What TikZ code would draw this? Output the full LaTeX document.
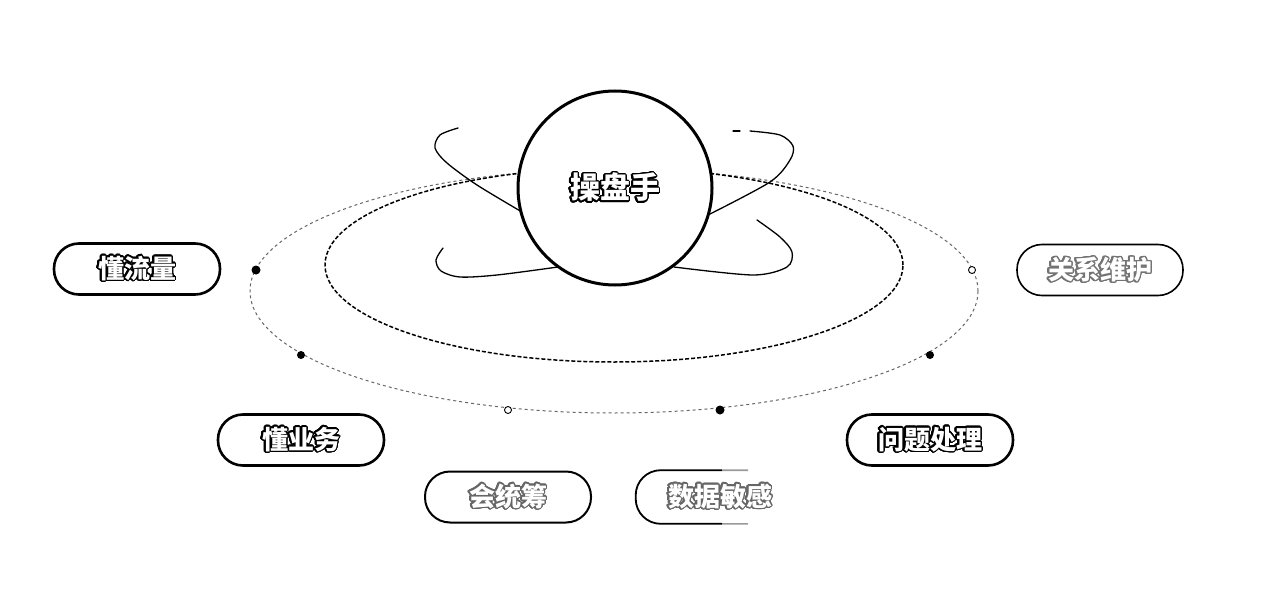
\documentclass[tikz,border=0pt]{standalone}
\usepackage{fontspec}
\usepackage{contour}
\newfontfamily\cjk{Noto Sans CJK SC}
\contourlength{1.3pt}
\contournumber{32}
\newcommand{\olbl}[2]{\contour{#1}{\textcolor{white}{#2}}}

\begin{document}
\begin{tikzpicture}[x=1pt,y=-1pt,
  pillbox/.style={draw, fill=white, rounded corners=25pt, minimum width=166pt,
    minimum height=51pt, inner sep=0pt, line width=2.6pt,
    font=\cjk\bfseries\fontsize{26}{26}\selectfont},
  softpill/.style={pillbox, line width=1.6pt},
  orbit/.style={line width=1.3pt, line cap=round},
  bigdot/.style={circle, fill=black, inner sep=0pt, minimum size=9pt},
  opendot/.style={circle, draw=black, fill=white, line width=0.9pt, inner sep=0pt, minimum size=7pt}]

\useasboundingbox (0,0) rectangle (1280,602);

% dashed orbit rings
\draw[black!60, line width=1pt, dash pattern=on 3pt off 3pt]
  (614,291) ellipse [x radius=364pt, y radius=122pt];
\draw[line width=1.5pt, dash pattern=on 4pt off 2pt]
  (614,265) ellipse [x radius=289pt, y radius=97pt];

% crossing loops around the centre
\draw[orbit] plot[smooth] coordinates {(458,128) (440,135) (435,148) (447,163) (477,185) (522,212)};
\draw[orbit] plot[smooth] coordinates {(750,131) (780,135) (793,146) (790,160) (770,182) (708,215)};
\draw[orbit] (733,131) -- (740,131);
\draw[orbit] plot[smooth] coordinates {(443,248) (436,260) (441,271) (460,277) (497,275) (558,267)};
\draw[orbit] plot[smooth] coordinates {(757,220) (780,237) (792,252) (787,267) (753,275) (674,267)};

% centre
\node[circle, draw, fill=white, line width=3pt, minimum size=194pt, inner sep=0pt,
  font=\cjk\bfseries\fontsize{30}{30}\selectfont] (hub) at (615,188) {\olbl{black}{操盘手}};

% markers on the outer ring
\node[bigdot] (d1) at (256,270) {};
\node[bigdot, minimum size=8pt] (d2) at (301,355) {};
\node[opendot] (d3) at (508,410) {};
\node[bigdot] (d4) at (720,410) {};
\node[bigdot, minimum size=8pt] (d5) at (930,355) {};
\node[opendot] (d6) at (972,270) {};

% skill pills
\node[pillbox] (p1) at (137,269) {\olbl{black}{懂流量}};
\node[softpill] (p2) at (1100,270) {\olbl{black!55}{关系维护}};
\node[pillbox] (p3) at (301,440) {\olbl{black}{懂业务}};
\node[pillbox, line width=2pt] (p4) at (508,497) {\olbl{black!60}{会统筹}};
\node[pillbox] (p6) at (930,440) {\olbl{black}{问题处理}};
\node[pillbox, draw=none] (p5) at (720,497) {\olbl{black!60}{数据敏感}};
\begin{scope}
  \clip (600,455) rectangle (722,540);
  \draw[line width=1.8pt, rounded corners=25pt] (p5.south west) rectangle (p5.north east);
\end{scope}
\begin{scope}
  \clip (722,455) rectangle (748,540);
  \draw[black!40, line width=1.6pt, rounded corners=25pt] (p5.south west) rectangle (p5.north east);
\end{scope}
\end{tikzpicture}
\end{document}
